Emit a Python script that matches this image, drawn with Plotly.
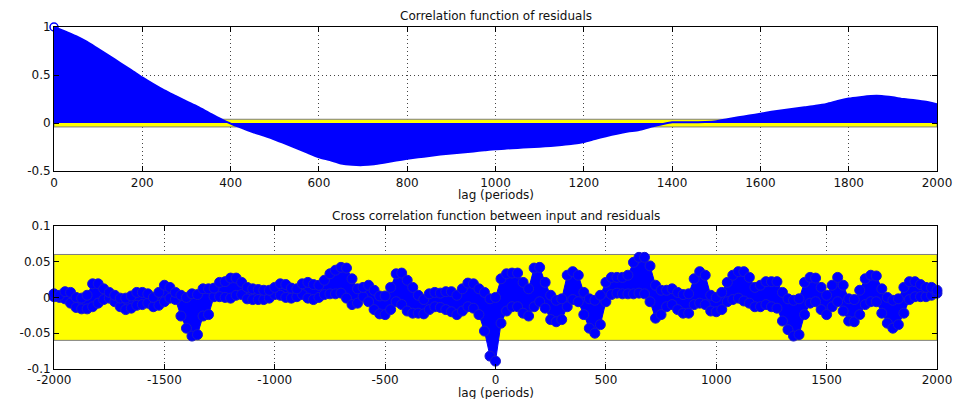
import plotly.graph_objects as go

# ---------------- data: correlation function of residuals (lags 0..2000, step 25)
acf_lags = list(range(0, 2001, 25))
acf_vals = [1.000, 0.955, 0.905, 0.845, 0.772, 0.700, 0.625, 0.552, 0.475, 0.405,
            0.340, 0.282, 0.225, 0.170, 0.110, 0.050, -0.005, -0.050, -0.092, -0.130,
            -0.170, -0.215, -0.262, -0.310, -0.355, -0.385, -0.420, -0.434, -0.437, -0.428,
            -0.410, -0.390, -0.372, -0.356, -0.342, -0.328, -0.316, -0.305, -0.295, -0.283,
            -0.272, -0.265, -0.258, -0.251, -0.245, -0.237, -0.228, -0.216, -0.196, -0.165,
            -0.136, -0.110, -0.088, -0.072, -0.040, -0.015, 0.008, 0.010, 0.010, 0.012,
            0.020, 0.040, 0.060, 0.078, 0.098, 0.118, 0.135, 0.150, 0.165, 0.180,
            0.200, 0.230, 0.255, 0.270, 0.282, 0.282, 0.268, 0.250, 0.238, 0.222,
            0.195]
acf_conf = 0.04

# ---------------- data: cross correlation input/residuals (lags -2000..2000, step 25)
ccf_lags = list(range(-2000, 2001, 25))
ccf_upper = [0.005, 0.003, 0.008, 0.007, 0.000, -0.001, 0.003, 0.019, 0.019, 0.012,
             0.007, 0.003, -0.001, -0.001, 0.002, 0.007, 0.007, 0.005, 0.000, 0.007,
             0.017, 0.014, 0.007, 0.003, 0.000, 0.005, 0.004, 0.012, 0.012, 0.013,
             0.021, 0.022, 0.027, 0.027, 0.021, 0.014, 0.012, 0.011, 0.010, 0.010,
             0.014, 0.019, 0.018, 0.013, 0.012, 0.019, 0.021, 0.018, 0.017, 0.024,
             0.033, 0.038, 0.042, 0.041, 0.026, 0.012, 0.014, 0.017, 0.010, 0.002,
             0.002, 0.014, 0.033, 0.034, 0.024, 0.014, 0.003, -0.003, 0.005, 0.007,
             0.006, 0.008, 0.008, 0.003, 0.012, 0.020, 0.019, 0.012, 0.007, -0.002,
             0.000,
             0.026, 0.033, 0.034, 0.034, 0.021, 0.012, 0.041, 0.042, 0.021, 0.003,
             -0.004, -0.002, 0.031, 0.036, 0.031, 0.007, -0.002, -0.004, 0.003, 0.021,
             0.028, 0.028, 0.028, 0.031, 0.049, 0.056, 0.056, 0.044, 0.017, 0.010,
             0.010, 0.012, 0.007, 0.004, 0.005, 0.026, 0.036, 0.031, 0.003, 0.000,
             0.007, 0.021, 0.031, 0.036, 0.036, 0.028, 0.014, 0.017, 0.022, 0.022,
             0.022, 0.007, -0.002, -0.004, -0.002, 0.021, 0.028, 0.027, 0.014, 0.003,
             0.017, 0.028, 0.017, -0.002, -0.003, 0.010, 0.026, 0.031, 0.030, 0.012,
             0.000, -0.004, -0.002, 0.014, 0.022, 0.022, 0.018, 0.014, 0.014, 0.010]
ccf_lower = [0.001, 0.000, -0.002, -0.008, -0.014, -0.016, -0.016, -0.013, -0.008, -0.003,
             -0.001, -0.006, -0.013, -0.017, -0.015, -0.011, -0.010, -0.008, -0.013, -0.011,
             -0.006, -0.001, -0.003, -0.026, -0.043, -0.054, -0.052, -0.026, -0.024, 0.001,
             0.001, 0.000, -0.001, 0.003, 0.004, -0.002, -0.003, -0.003, -0.003, -0.001,
             0.004, 0.003, 0.000, -0.001, 0.001, 0.004, -0.001, -0.003, 0.000, 0.004,
             0.005, 0.005, 0.006, -0.001, -0.010, -0.008, 0.001, -0.006, -0.017, -0.023,
             -0.024, -0.017, -0.006, -0.010, -0.019, -0.022, -0.022, -0.023, -0.017, -0.013,
             -0.014, -0.017, -0.020, -0.024, -0.019, -0.013, -0.015, -0.024, -0.047, -0.082,
             -0.089,
             -0.036, -0.019, -0.013, -0.013, -0.022, -0.026, -0.013, -0.006, -0.015, -0.031,
             -0.034, -0.031, -0.013, -0.003, -0.006, -0.024, -0.043, -0.050, -0.038, -0.006,
             0.004, 0.006, 0.005, 0.005, 0.005, 0.006, 0.005, -0.006, -0.029, -0.024,
             -0.013, -0.010, -0.017, -0.022, -0.022, -0.010, -0.008, -0.010, -0.019, -0.020,
             -0.017, -0.006, -0.003, -0.001, -0.005, -0.008, -0.013, -0.013, -0.010, -0.013,
             -0.015, -0.033, -0.045, -0.054, -0.052, -0.024, -0.008, -0.006, -0.017, -0.024,
             -0.013, -0.006, -0.019, -0.033, -0.034, -0.024, -0.010, -0.006, -0.006, -0.022,
             -0.036, -0.043, -0.038, -0.022, -0.003, 0.001, 0.001, 0.001, 0.003, 0.006]
ccf_conf = 0.06

top_xticks = list(range(0, 2001, 200))
top_yticks = [-0.5, 0, 0.5, 1]
top_yticktext = ["-0.5", "0", "0.5", "1"]
bot_xticks = list(range(-2000, 2001, 500))
bot_yticks = [-0.1, -0.05, 0, 0.05, 0.1]
bot_yticktext = ["-0.1", "-0.05", "0", "0.05", "0.1"]

BLUE = "#0000ff"
YELLOW = "#ffff00"
FONT = "DejaVu Sans"

fig = go.Figure()

# confidence band top
x0, x1 = acf_lags[0], acf_lags[-1]
fig.add_trace(go.Scatter(x=[x0, x1, x1, x0, x0],
                         y=[-acf_conf, -acf_conf, acf_conf, acf_conf, -acf_conf],
                         fill="toself", fillcolor=YELLOW, mode="lines",
                         line=dict(color="#7f7f7f", width=1),
                         xaxis="x", yaxis="y", hoverinfo="skip", showlegend=False))
fig.add_trace(go.Scatter(x=acf_lags, y=acf_vals, fill="tozeroy", fillcolor=BLUE,
                         mode="lines", line=dict(color=BLUE, width=2, shape="spline", smoothing=0.6),
                         xaxis="x", yaxis="y", showlegend=False))
fig.add_trace(go.Scatter(x=acf_lags[:1], y=acf_vals[:1], mode="markers",
                         marker=dict(symbol="circle-open", size=8, color=BLUE,
                                     line=dict(width=1.5, color=BLUE)),
                         cliponaxis=False, xaxis="x", yaxis="y", showlegend=False))

# confidence band bottom
b0, b1 = ccf_lags[0], ccf_lags[-1]
fig.add_trace(go.Scatter(x=[b0, b1, b1, b0, b0],
                         y=[-ccf_conf, -ccf_conf, ccf_conf, ccf_conf, -ccf_conf],
                         fill="toself", fillcolor=YELLOW, mode="lines",
                         line=dict(color="#7f7f7f", width=1),
                         xaxis="x2", yaxis="y2", hoverinfo="skip", showlegend=False))
fig.add_trace(go.Scatter(x=ccf_lags, y=ccf_lower, mode="lines+markers",
                         line=dict(color=BLUE, width=1),
                         marker=dict(symbol="circle", size=10, color=BLUE,
                                     line=dict(width=1, color="#1a1ad0")),
                         cliponaxis=False, xaxis="x2", yaxis="y2", showlegend=False))
fig.add_trace(go.Scatter(x=ccf_lags, y=ccf_upper, mode="lines+markers",
                         fill="tonexty", fillcolor=BLUE,
                         line=dict(color=BLUE, width=1),
                         marker=dict(symbol="circle", size=10, color=BLUE,
                                     line=dict(width=1, color="#1a1ad0")),
                         cliponaxis=False, xaxis="x2", yaxis="y2", showlegend=False))

axis_common = dict(showline=True, linecolor="black", linewidth=1, mirror="allticks",
                   ticks="inside", ticklen=5, tickcolor="black",
                   showgrid=True, gridcolor="#444444", gridwidth=1, griddash="1px,3px",
                   zeroline=False, tickfont=dict(family=FONT, size=12, color="#111111"))

fig.update_layout(
    width=964, height=399,
    margin=dict(l=54, r=22, t=27, b=28),
    paper_bgcolor="white", plot_bgcolor="white",
    xaxis=dict(domain=[0, 1], range=[0, 2000], tickvals=top_xticks,
               ticktext=[str(v) for v in top_xticks], anchor="y", **axis_common),
    yaxis=dict(domain=[0.5785, 1], range=[-0.5, 1], tickvals=top_yticks,
               ticktext=top_yticktext, anchor="x", **axis_common),
    xaxis2=dict(domain=[0, 1], range=[-2000, 2000], tickvals=bot_xticks,
                ticktext=[str(v) for v in bot_xticks], anchor="y2", **axis_common),
    yaxis2=dict(domain=[0, 0.4186], range=[-0.1, 0.1], tickvals=bot_yticks,
                ticktext=bot_yticktext, anchor="x2", **axis_common),
    showlegend=False,
)

ann_font = dict(family=FONT, size=12, color="#111111")
for text, ypos in [("Correlation function of residuals", 1.032),
                   ("lag (periods)", 0.508),
                   ("Cross correlation function between input and residuals", 0.448),
                   ("lag (periods)", -0.071)]:
    fig.add_annotation(text=text, xref="paper", yref="paper", x=0.5, y=ypos,
                       xanchor="center", yanchor="middle", showarrow=False, font=ann_font)

fig.write_html("out.html")
